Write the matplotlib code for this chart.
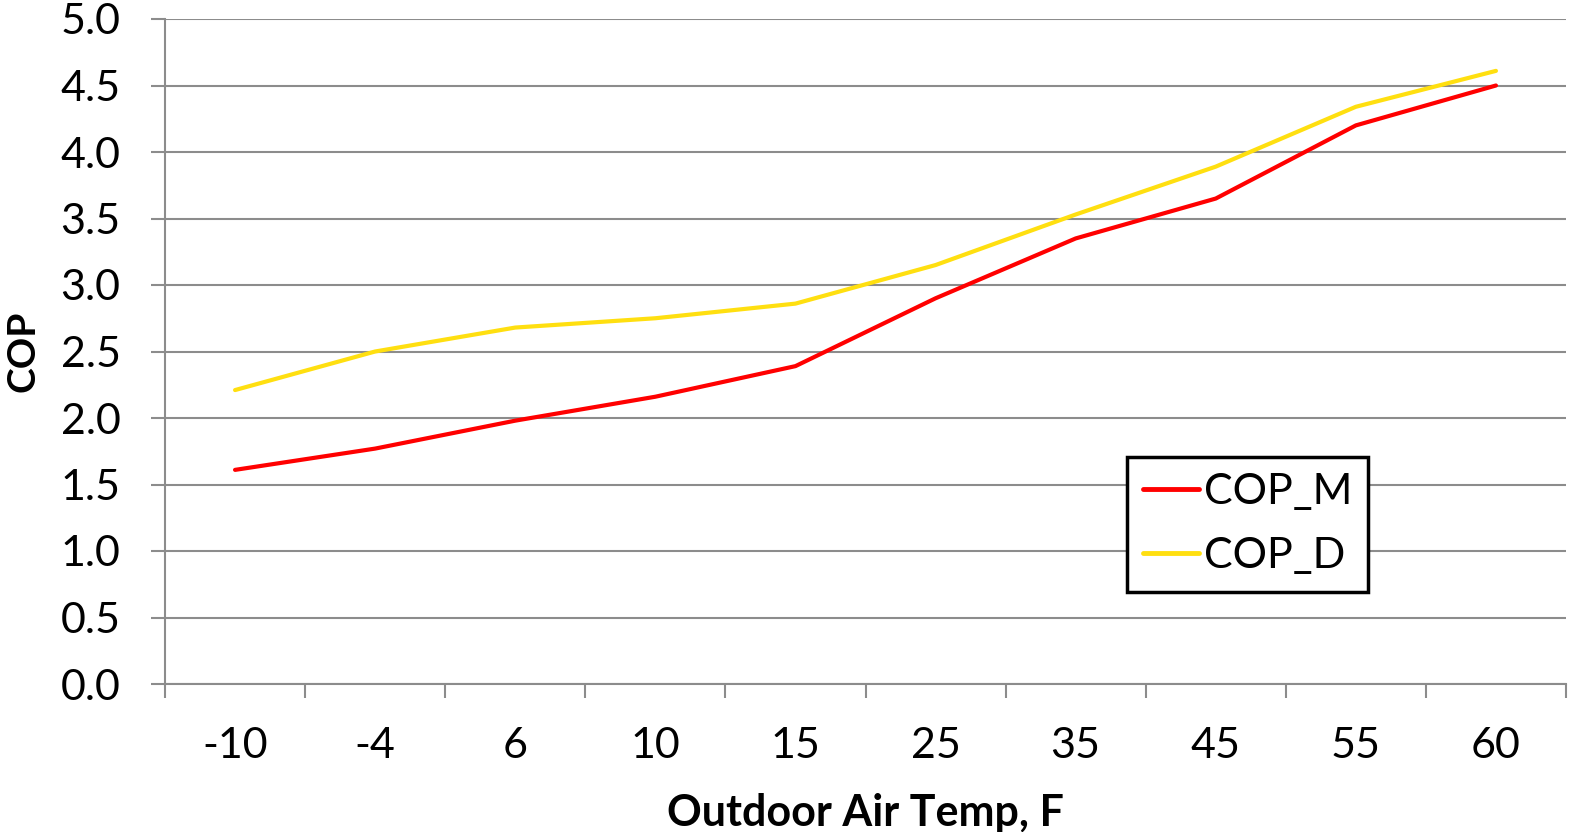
import matplotlib
matplotlib.use("Agg")
import matplotlib.pyplot as plt
from matplotlib.ticker import MultipleLocator, FixedLocator

categories = ["-10", "-4", "6", "10", "15", "25", "35", "45", "55", "60"]
cop_m = [1.61, 1.77, 1.98, 2.16, 2.39, 2.90, 3.35, 3.65, 4.20, 4.50]
cop_d = [2.21, 2.50, 2.68, 2.75, 2.86, 3.15, 3.53, 3.89, 4.34, 4.61]

plt.rcParams['font.family'] = ['Lato', 'DejaVu Sans']

W, H = 1569, 832
fig = plt.figure(figsize=(W / 100, H / 100), dpi=100)
ax = fig.add_axes([165 / W, 1 - 684 / H, (1566 - 165) / W, (684 - 19) / H])

x = list(range(len(categories)))
ax.plot(x, cop_m, color='#FF0000', lw=3.0, label='COP_M', solid_capstyle='round', zorder=3)
ax.plot(x, cop_d, color='#FFDF10', lw=3.0, label='COP_D', solid_capstyle='round', zorder=3)

ax.set_xlim(-0.5, len(categories) - 0.5)
ax.set_ylim(0, 5.0)
ax.yaxis.set_major_locator(MultipleLocator(0.5))
ax.yaxis.set_major_formatter(matplotlib.ticker.FormatStrFormatter('%.1f'))
ax.set_xticks(x)
ax.set_xticklabels(categories)
ax.xaxis.set_minor_locator(FixedLocator([i - 0.5 for i in range(len(categories) + 1)]))

grid_c = '#8C8C8C'
ax.grid(axis='y', color=grid_c, lw=1.5, zorder=0)
for s in ['top', 'right']:
    ax.spines[s].set_visible(False)
for s in ['left', 'bottom']:
    ax.spines[s].set_color(grid_c)
    ax.spines[s].set_linewidth(1.5)

ax.tick_params(axis='x', which='major', length=0, pad=31, labelsize=31)
ax.tick_params(axis='x', which='minor', length=10, width=1.5, color=grid_c, direction='out')
ax.tick_params(axis='y', which='major', length=10, width=1.5, color=grid_c, pad=22, labelsize=31)

ax.set_xlabel('Outdoor Air Temp, F', fontsize=31, fontweight='bold', labelpad=20)
ax.set_ylabel('COP', fontsize=28, fontweight='bold', labelpad=14)

leg = ax.legend(loc='upper left', bbox_to_anchor=(1127 / W, 1 - 457 / H),
                bbox_transform=fig.transFigure, fontsize=31, frameon=True,
                fancybox=False, framealpha=1, edgecolor='black',
                handlelength=1.3, handletextpad=0.1, borderpad=0.38,
                labelspacing=0.6, borderaxespad=0)
leg.get_frame().set_linewidth(2.5)
for h in leg.get_lines():
    h.set_linewidth(3.5)

fig.savefig('out.png', dpi=100)
